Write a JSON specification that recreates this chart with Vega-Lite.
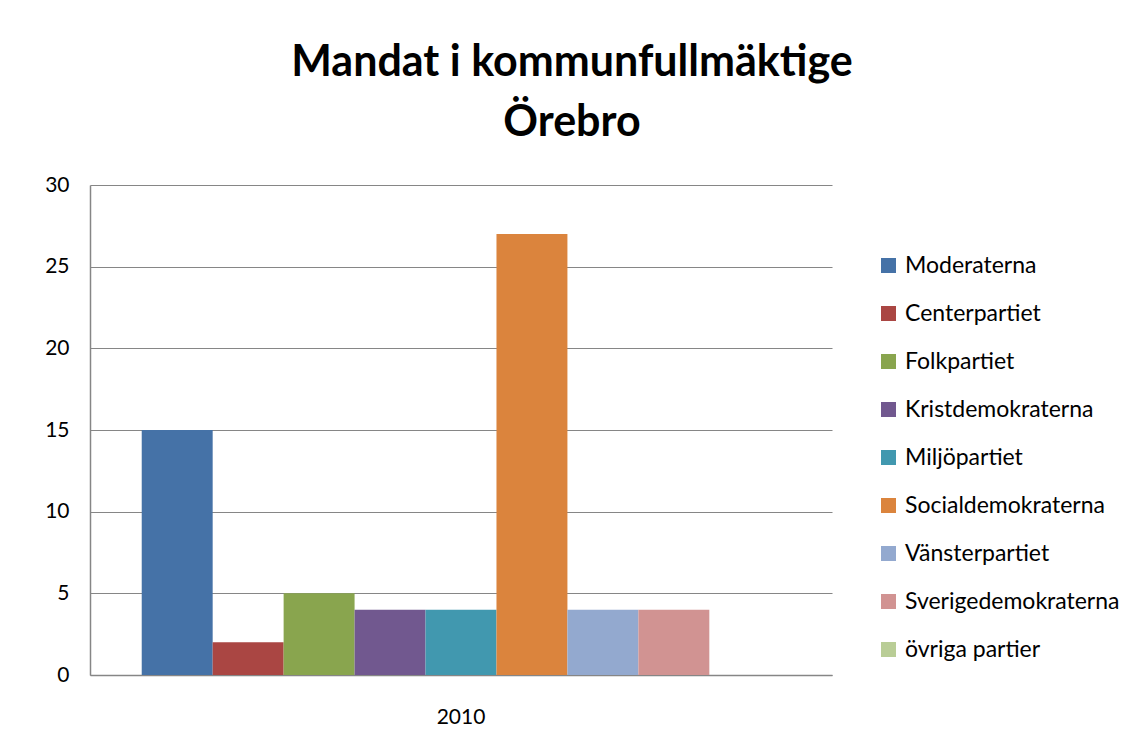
{
  "$schema": "https://vega.github.io/schema/vega-lite/v6.json",
  "autosize": "none",
  "width": 742,
  "height": 490,
  "padding": {"left": 90, "top": 185, "right": 314, "bottom": 79},
  "background": "white",
  "title": {
    "text": ["Mandat i kommunfullmäktige", "Örebro"],
    "anchor": "middle",
    "dx": 111,
    "offset": 29,
    "font": "Lato",
    "fontSize": 43,
    "fontWeight": "bold",
    "lineHeight": 60,
    "color": "#000000"
  },
  "data": {
    "values": [
      {"year": "2010", "party": "Moderaterna", "mandat": 15},
      {"year": "2010", "party": "Centerpartiet", "mandat": 2},
      {"year": "2010", "party": "Folkpartiet", "mandat": 5},
      {"year": "2010", "party": "Kristdemokraterna", "mandat": 4},
      {"year": "2010", "party": "Miljöpartiet", "mandat": 4},
      {"year": "2010", "party": "Socialdemokraterna", "mandat": 27},
      {"year": "2010", "party": "Vänsterpartiet", "mandat": 4},
      {"year": "2010", "party": "Sverigedemokraterna", "mandat": 4},
      {"year": "2010", "party": "övriga partier", "mandat": 0}
    ]
  },
  "mark": {"type": "bar"},
  "encoding": {
    "x": {
      "field": "year",
      "type": "nominal",
      "title": null,
      "scale": {"paddingInner": 0, "paddingOuter": 0.081},
      "axis": {
        "labelAngle": 0,
        "labelFont": "Lato",
        "labelFontSize": 21,
        "labelColor": "#000000",
        "labelPadding": 31,
        "ticks": false,
        "domainColor": "#868686",
        "domainWidth": 1.5
      }
    },
    "xOffset": {
      "field": "party",
      "type": "nominal",
      "sort": null,
      "scale": {"paddingInner": 0, "paddingOuter": 0}
    },
    "y": {
      "field": "mandat",
      "type": "quantitative",
      "title": null,
      "scale": {"domain": [0, 30], "nice": false},
      "axis": {
        "values": [0, 5, 10, 15, 20, 25, 30],
        "labelFont": "Lato",
        "labelFontSize": 21,
        "labelColor": "#000000",
        "labelPadding": 21,
        "ticks": false,
        "grid": true,
        "gridColor": "#868686",
        "gridWidth": 1.2,
        "domainColor": "#868686",
        "domainWidth": 1.5
      }
    },
    "color": {
      "field": "party",
      "type": "nominal",
      "sort": null,
      "title": null,
      "scale": {
        "domain": ["Moderaterna", "Centerpartiet", "Folkpartiet", "Kristdemokraterna", "Miljöpartiet", "Socialdemokraterna", "Vänsterpartiet", "Sverigedemokraterna", "övriga partier"],
        "range": ["#4572A7", "#AA4643", "#89A54E", "#71588F", "#4198AF", "#DB843D", "#93A9CF", "#D19392", "#B9CD96"]
      },
      "legend": {
        "orient": "none",
        "legendX": 787,
        "legendY": 69,
        "symbolType": "square",
        "symbolSize": 225,
        "symbolStrokeWidth": 0,
        "symbolOpacity": 1,
        "labelFont": "Lato",
        "labelFontSize": 23,
        "labelColor": "#000000",
        "labelOffset": 5,
        "rowPadding": 24,
        "labelLimit": 300
      }
    }
  },
  "config": {
    "view": {"stroke": null},
    "axis": {"gridCap": "butt"}
  }
}
